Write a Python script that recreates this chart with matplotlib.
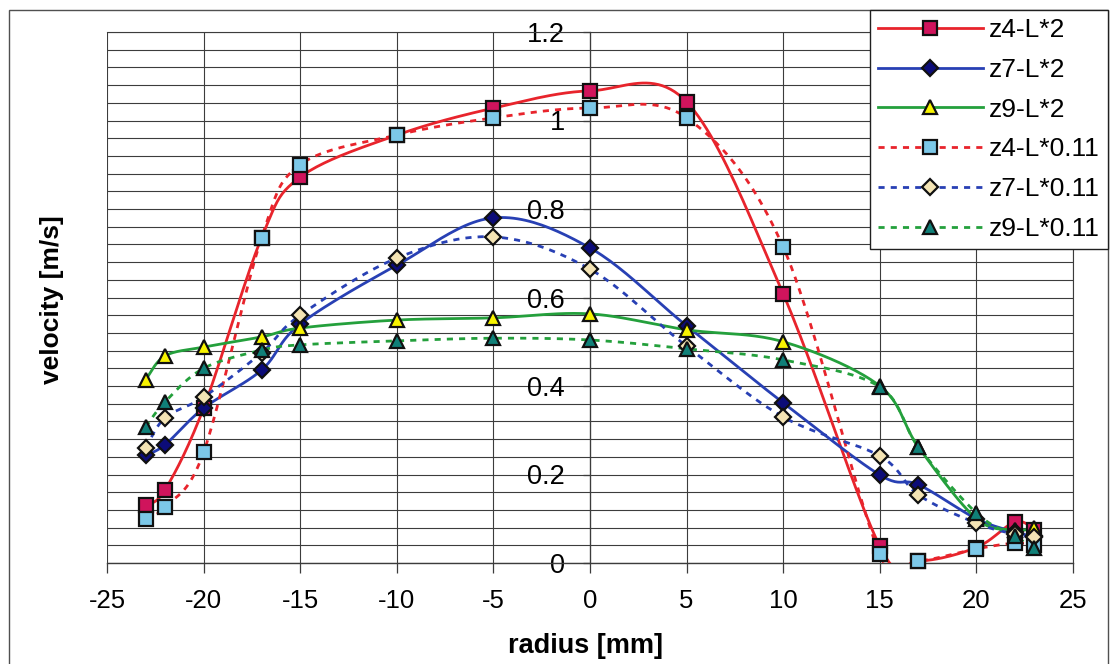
import numpy as np
import matplotlib
matplotlib.use("Agg")
import matplotlib.pyplot as plt
from matplotlib.patches import Rectangle
from matplotlib.lines import Line2D

plt.rcParams['font.family'] = ['Liberation Sans', 'DejaVu Sans']
plt.rcParams['axes.unicode_minus'] = False

# radius positions [mm]
radius = [-23, -22, -20, -17, -15, -10, -5, 0, 5, 10, 15, 17, 20, 22, 23]

# velocity [m/s]
z4_L2 = [0.131, 0.165, 0.35, 0.735, 0.872, 0.967, 1.028, 1.067, 1.042, 0.608, 0.038, 0.005, 0.035, 0.093, 0.075]
z7_L2 = [0.244, 0.267, 0.35, 0.436, 0.54, 0.673, 0.78, 0.712, 0.536, 0.362, 0.199, 0.177, 0.10, 0.07, 0.06]
z9_L2 = [0.414, 0.468, 0.488, 0.511, 0.531, 0.549, 0.554, 0.563, 0.527, 0.5, 0.40, 0.262, 0.10, 0.075, 0.079]
z4_L011 = [0.10, 0.127, 0.25, 0.735, 0.90, 0.967, 1.006, 1.028, 1.006, 0.714, 0.02, 0.005, 0.032, 0.045, 0.04]
z7_L011 = [0.26, 0.328, 0.375, 0.475, 0.56, 0.689, 0.737, 0.664, 0.49, 0.33, 0.242, 0.154, 0.09, 0.065, 0.059]
z9_L011 = [0.307, 0.364, 0.44, 0.481, 0.493, 0.502, 0.508, 0.504, 0.484, 0.459, 0.398, 0.262, 0.113, 0.06, 0.034]

labels = ["z4-L*2", "z7-L*2", "z9-L*2", "z4-L*0.11", "z7-L*0.11", "z9-L*0.11"]
values = [z4_L2, z7_L2, z9_L2, z4_L011, z7_L011, z9_L011]

# line colour, linestyle, marker, marker face
styles = [
    ("#e8242c", "-", "s", "#d0145c"),
    ("#2840b4", "-", "D", "#0c0c78"),
    ("#24a03c", "-", "^", "#f8f400"),
    ("#e8242c", (0, (2.2, 2.2)), "s", "#7cc8e8"),
    ("#2840b4", (0, (2.2, 2.2)), "D", "#f4e4b4"),
    ("#24a03c", (0, (2.2, 2.2)), "^", "#108078"),
]
msizes = {"s": 10, "D": 8.5, "^": 10.5}


def smooth(x, y, n=24):
    # smoothed line like a spreadsheet chart: Catmull-Rom through the points
    P = np.column_stack([x, y]).astype(float)
    P = np.vstack([P[0], P, P[-1]])
    t = np.linspace(0, 1, n, endpoint=False)[:, None]
    h00 = 2 * t**3 - 3 * t**2 + 1
    h10 = t**3 - 2 * t**2 + t
    h01 = -2 * t**3 + 3 * t**2
    h11 = t**3 - t**2
    out = []
    for i in range(1, len(P) - 2):
        m1 = (P[i + 1] - P[i - 1]) / 2
        m2 = (P[i + 2] - P[i]) / 2
        out.append(h00 * P[i] + h10 * m1 + h01 * P[i + 1] + h11 * m2)
    out.append(P[-2][None])
    return np.vstack(out)


W, H = 1114, 664
fig = plt.figure(figsize=(W / 100, H / 100), dpi=100)
fig.patch.set_facecolor("white")

# outer chart frame
fig.patches.append(Rectangle((9 / W, -0.01), 1099 / W, 1 - 10 / H + 0.01,
                             transform=fig.transFigure, fill=False,
                             edgecolor="#505050", linewidth=1.0))

ax = fig.add_axes([107 / W, 1 - 563 / H, 966 / W, 531 / H])
ax.set_xlim(-25, 25)
ax.set_ylim(0, 1.2)

ax.set_xticks(np.arange(-25, 26, 5))
ax.set_yticks(np.arange(0, 1.21, 0.2))
ax.set_yticks(np.arange(0, 1.21, 0.04), minor=True)
ax.set_yticklabels(["0", "0.2", "0.4", "0.6", "0.8", "1", "1.2"])
ax.grid(True, which="both", axis="y", color="#3c3c3c", linewidth=0.8)
ax.grid(True, which="major", axis="x", color="#3c3c3c", linewidth=0.8)
ax.set_axisbelow(True)

ax.spines["left"].set_position(("data", 0))
for s in ["top", "right"]:
    ax.spines[s].set_color("#3c3c3c")
    ax.spines[s].set_linewidth(0.8)
ax.spines["left"].set_color("#3c3c3c")
ax.spines["left"].set_linewidth(0.9)
ax.spines["bottom"].set_color("#3c3c3c")
ax.spines["bottom"].set_linewidth(1.0)

ax.tick_params(axis="x", which="major", direction="out", length=7, width=0.9,
               color="#3c3c3c", labelsize=18.5, pad=12)
ax.tick_params(axis="y", which="major", direction="out", length=5, width=0.9,
               color="#3c3c3c", labelsize=19.5, pad=13)
ax.tick_params(axis="y", which="minor", length=0)
for lab in ax.get_yticklabels():
    lab.set_zorder(5)

handles = []
for k, (lab, vals) in enumerate(zip(labels, values)):
    col, ls, mk, face = styles[k]
    curve = smooth(radius, vals)
    ax.plot(curve[:, 0], curve[:, 1], color=col, linestyle=ls, linewidth=2.0,
            zorder=3 + k * 0.1, clip_on=True)
    ax.plot(radius, vals, linestyle="none", marker=mk, markersize=msizes[mk],
            markerfacecolor=face, markeredgecolor="#101010", markeredgewidth=1.6,
            zorder=4 + k * 0.1, clip_on=False)
    handles.append(Line2D([], [], color=col, linestyle=ls, linewidth=2.0,
                          marker=mk, markersize=msizes[mk], markerfacecolor=face,
                          markeredgecolor="#101010", markeredgewidth=1.6))

fig.text(586 / W, 1 - 646 / H, "radius [mm]", ha="center", va="center",
         fontsize=19.5, fontweight="bold")
fig.text(52 / W, 1 - 300 / H, "velocity [m/s]", ha="center", va="center",
         rotation=90, fontsize=19, fontweight="bold")

leg = fig.legend(handles, labels, loc="upper right",
                 bbox_to_anchor=(1108 / W, 1 - 10 / H), bbox_transform=fig.transFigure,
                 frameon=True, fancybox=False, framealpha=1, edgecolor="#202020",
                 fontsize=19, handlelength=3.95, handletextpad=0.25,
                 labelspacing=0.6, borderpad=0.3, borderaxespad=0)
leg.get_frame().set_linewidth(1.0)
leg.set_zorder(10)

fig.savefig("out.png", dpi=100, facecolor="white")
